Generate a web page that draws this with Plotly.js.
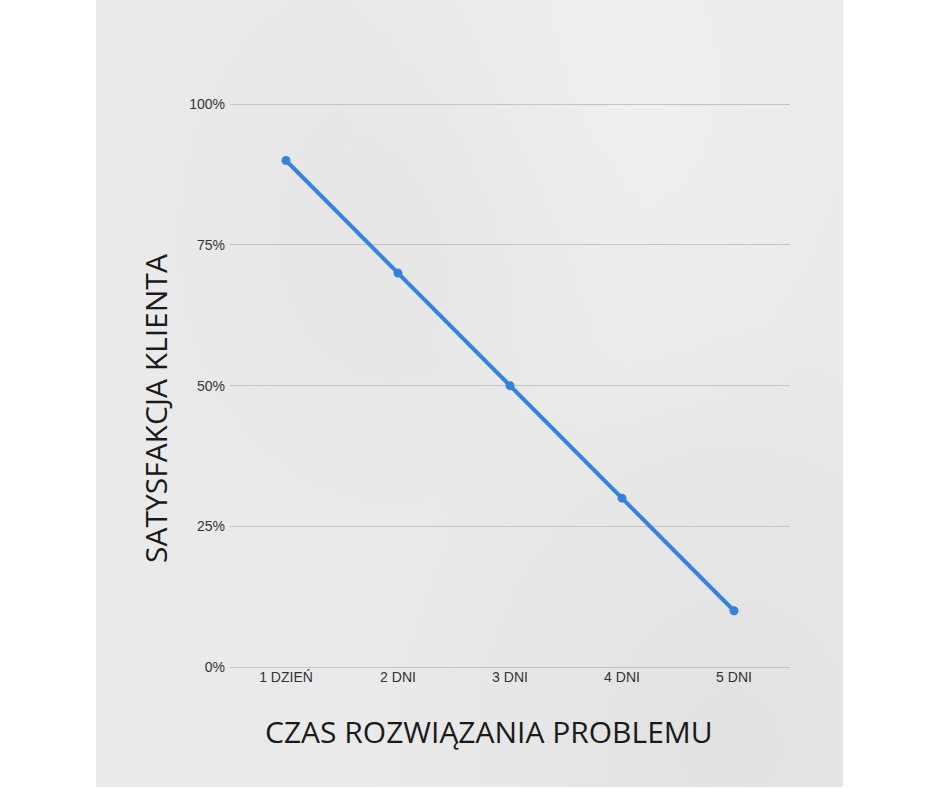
<!DOCTYPE html>
<html>
<head>
<meta charset="utf-8">
<script src="https://cdn.plot.ly/plotly-3.0.1.min.js"></script>
<style>
  html, body { margin: 0; padding: 0; background: #ffffff; }
  #wrap { position: relative; width: 940px; height: 788px; overflow: hidden; }
  /* grey watercolour panel behind the chart */
  #panel {
    position: absolute; left: 96px; top: 0; width: 747px; height: 787px;
    background:
      radial-gradient(ellipse at 40% 30%, rgba(215,215,215,0.25), rgba(215,215,215,0) 40%),
      radial-gradient(ellipse at 70% 10%, rgba(250,250,250,0.35), rgba(250,250,250,0) 40%),
      radial-gradient(ellipse at 85% 95%, rgba(205,205,205,0.3), rgba(205,205,205,0) 40%),
      #eaeaea;
  }
  #chart { position: absolute; left: 0; top: 0; width: 940px; height: 788px; }
</style>
</head>
<body>
<div id="wrap">
  <div id="panel"></div>
  <div id="chart"></div>
</div>
<script>
// values
var categories = ['1 DZIEŃ', '2 DNI', '3 DNI', '4 DNI', '5 DNI'];
var satisfaction = [0.90, 0.70, 0.50, 0.30, 0.10];
var yTicks = [0, 0.25, 0.5, 0.75, 1];
var yTickLabels = ['0%', '25%', '50%', '75%', '100%'];

var xTitle = 'CZAS ROZWIĄZANIA PROBLEMU';
var yTitle = 'SATYSFAKCJA KLIENTA';

var trace = {
  type: 'scatter',
  mode: 'lines+markers',
  x: categories,
  y: satisfaction,
  line: { color: '#3583e0', width: 4 },
  marker: { color: '#3583e0', size: 9 },
  cliponaxis: false,
  hoverinfo: 'none'
};

var layout = {
  width: 940,
  height: 788,
  margin: { l: 230, r: 150, t: 102, b: 121 },
  paper_bgcolor: 'rgba(0,0,0,0)',
  plot_bgcolor: 'rgba(0,0,0,0)',
  showlegend: false,
  font: { family: 'Liberation Sans, Arial, sans-serif', color: '#333333', size: 14 },
  xaxis: {
    type: 'category',
    range: [-0.5, 4.5],
    showgrid: false,
    zeroline: false,
    showline: false,
    ticks: '',
    ticklabelstandoff: 0,
    tickfont: { size: 14, color: '#333333' },
    fixedrange: true
  },
  yaxis: {
    range: [0, 1.004],
    tickvals: yTicks,
    ticktext: yTickLabels,
    showgrid: true,
    gridcolor: '#c4c4c4',
    gridwidth: 1,
    zeroline: true,
    zerolinecolor: '#c4c4c4',
    zerolinewidth: 1,
    showline: false,
    ticks: '',
    ticklabelstandoff: 4,
    tickfont: { size: 14, color: '#333333' },
    fixedrange: true
  },
  annotations: [
    {
      text: xTitle,
      xref: 'paper', yref: 'paper',
      x: (489 - 230) / 560, y: -(731 - 667) / 565,
      xanchor: 'center', yanchor: 'middle',
      showarrow: false,
      font: { family: 'Open Sans, Noto Sans, sans-serif', size: 30, color: '#1a1a1a' }
    },
    {
      text: yTitle,
      xref: 'paper', yref: 'paper',
      x: -(230 - 155) / 560, y: (667 - 409) / 565,
      xanchor: 'center', yanchor: 'middle',
      textangle: -90,
      showarrow: false,
      font: { family: 'Open Sans, sans-serif', size: 30, color: '#1a1a1a' }
    }
  ]
};

Plotly.newPlot('chart', [trace], layout, { displayModeBar: false, staticPlot: true });
</script>
</body>
</html>
